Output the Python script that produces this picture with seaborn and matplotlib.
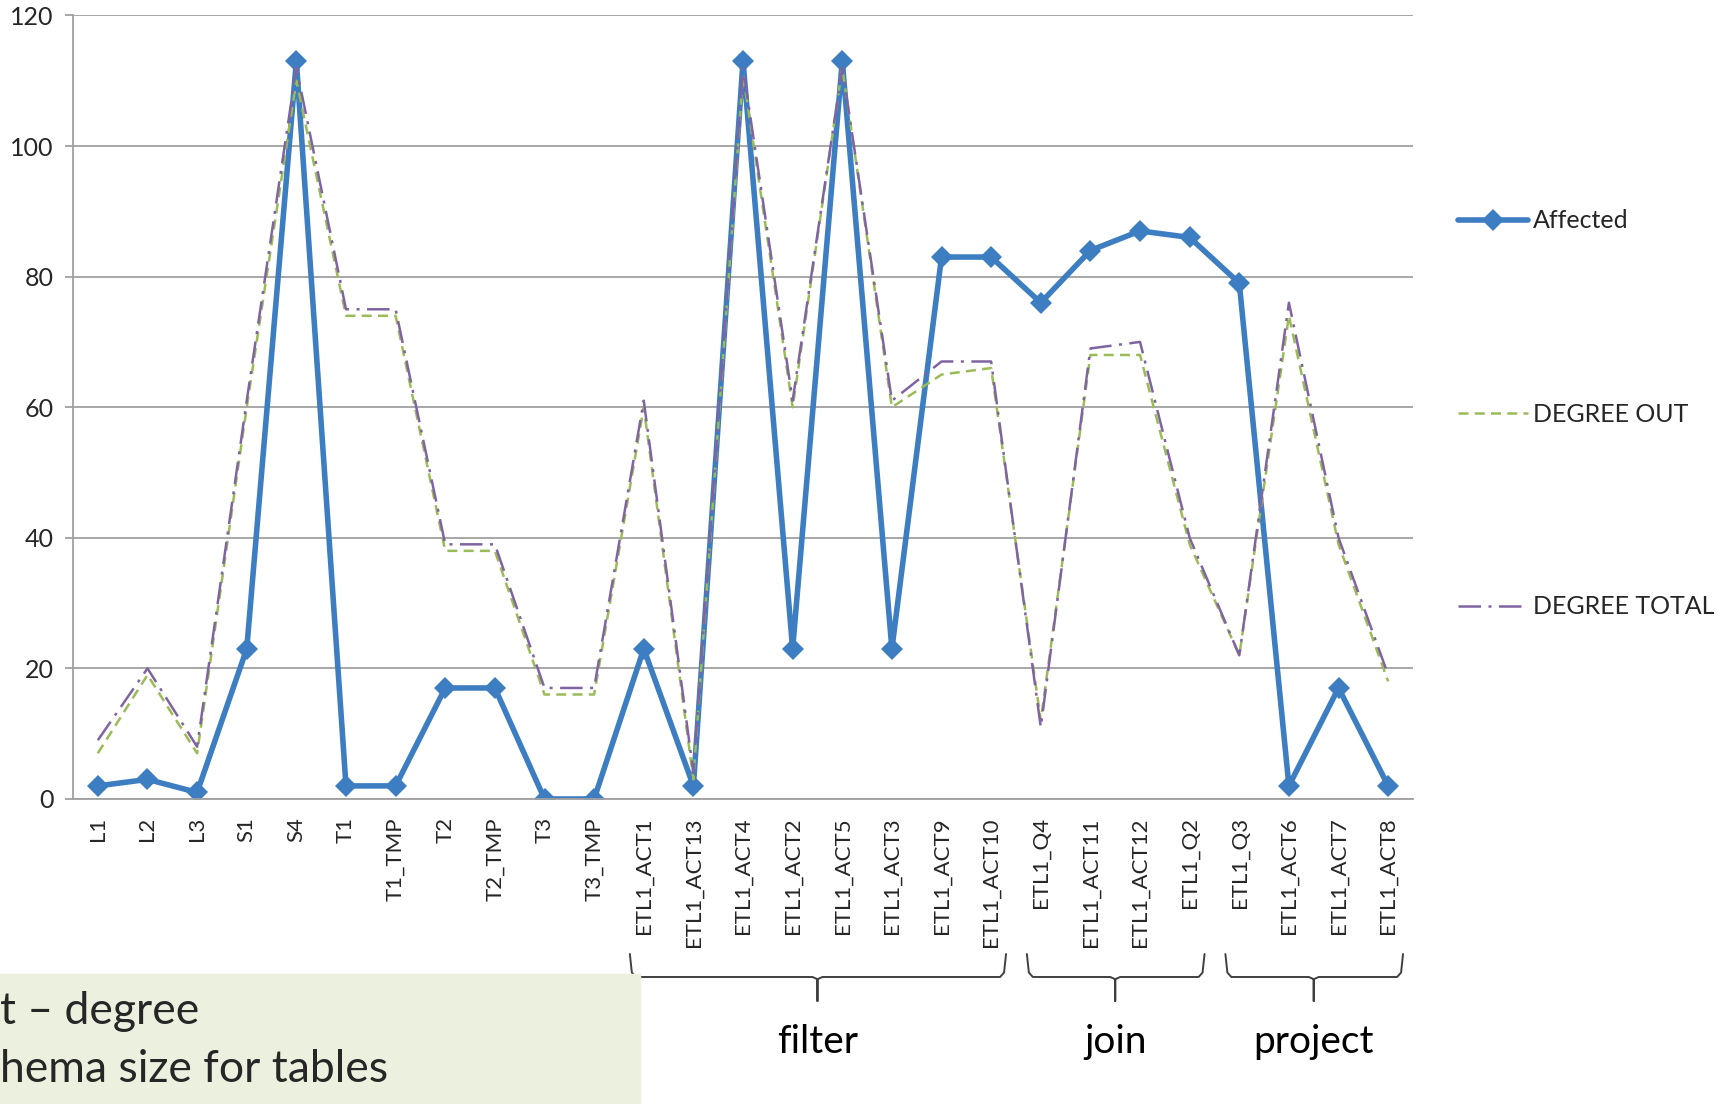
import matplotlib.pyplot as plt
import matplotlib.transforms as mtransforms
import seaborn as sns
import pandas as pd

categories = [
    "L1", "L2", "L3", "S1", "S4", "T1", "T1_TMP", "T2", "T2_TMP", "T3", "T3_TMP",
    "ETL1_ACT1", "ETL1_ACT13", "ETL1_ACT4", "ETL1_ACT2", "ETL1_ACT5", "ETL1_ACT3",
    "ETL1_ACT9", "ETL1_ACT10", "ETL1_Q4", "ETL1_ACT11", "ETL1_ACT12", "ETL1_Q2",
    "ETL1_Q3", "ETL1_ACT6", "ETL1_ACT7", "ETL1_ACT8",
]
affected = [2, 3, 1, 23, 113, 2, 2, 17, 17, 0, 0,
            23, 2, 113, 23, 113, 23, 83, 83, 76, 84, 87, 86,
            79, 2, 17, 2]
degree_out = [7, 19, 7, 60, 110, 74, 74, 38, 38, 16, 16,
              60, 3, 111, 60, 112, 60, 65, 66, 12, 68, 68, 39,
              22, 74, 39, 18]
degree_total = [9, 20, 8, 61, 112, 75, 75, 39, 39, 17, 17,
                61, 4, 112, 61, 112, 61, 67, 67, 11, 69, 70, 40,
                22, 76, 40, 19]

groups = ["filter", "join", "project"]
group_first = ["ETL1_ACT1", "ETL1_Q4", "ETL1_Q3"]
group_last = ["ETL1_ACT10", "ETL1_Q2", "ETL1_ACT8"]

note_lines = ["t \u2013 degree", "hema size for tables"]

df = pd.DataFrame({"cat": categories, "Affected": affected,
                   "DEGREE OUT": degree_out, "DEGREE TOTAL": degree_total})

sns.set_style("white")
plt.rcParams["font.family"] = ["Lato", "DejaVu Sans"]

fig = plt.figure(figsize=(17.35, 11.04), dpi=100)
ax = fig.add_axes([0.0421, 0.2763, 0.7723, 0.7097])

blue = "#3D7DC1"
green = "#9BBB59"
purple = "#8064A2"

sns.lineplot(data=df, x="cat", y="Affected", ax=ax, color=blue, lw=4,
             marker="D", markersize=11, markeredgewidth=0, label="Affected",
             sort=False, errorbar=None)
sns.lineplot(data=df, x="cat", y="DEGREE OUT", ax=ax, color=green, lw=1.8,
             linestyle=(0, (4, 2.5)), label="DEGREE OUT", sort=False, errorbar=None)
sns.lineplot(data=df, x="cat", y="DEGREE TOTAL", ax=ax, color=purple, lw=1.8,
             linestyle=(0, (9, 3, 1.2, 3)), label="DEGREE TOTAL", sort=False,
             errorbar=None)

n = len(categories)
ax.set_xlim(-0.5, n - 0.5)
ax.set_ylim(0, 120)
ax.set_yticks(range(0, 121, 20))
ax.set_xlabel("")
ax.set_ylabel("")

# gridlines and axes in grey, like the original
ax.grid(axis="y", color="#A0A0A0", lw=1.3)
ax.set_axisbelow(True)
for s in ["top", "right"]:
    ax.spines[s].set_visible(False)
for s in ["left", "bottom"]:
    ax.spines[s].set_color("#A0A0A0")
    ax.spines[s].set_linewidth(1.3)

ax.set_xticks(range(n))
ax.set_xticklabels(categories, rotation=90, fontsize=16)
ax.set_xticks([i - 0.5 for i in range(n + 1)], minor=True)
ax.tick_params(axis="x", which="major", length=0, pad=13)
ax.tick_params(axis="x", which="minor", length=6, color="#A0A0A0", width=1.3,
               direction="out")
ax.tick_params(axis="y", length=6, color="#A0A0A0", width=1.3, direction="out",
               labelsize=18, pad=8, left=True)

leg = ax.legend(loc="center left", bbox_to_anchor=(0.8403, 0.625),
                bbox_transform=fig.transFigure, frameon=False, fontsize=18,
                borderpad=0, borderaxespad=0, labelspacing=6.8,
                handlelength=2.8, handletextpad=0.2)

# group braces under the tick labels
trans = mtransforms.blended_transform_factory(ax.transData, fig.transFigure)
pos = {c: i for i, c in enumerate(categories)}
y_top, y_mid, y_tip = 1 - 954 / 1104, 1 - 977 / 1104, 1 - 1001 / 1104
for name, first, last in zip(groups, group_first, group_last):
    x0 = pos[first] - 0.28
    x1 = pos[last] + 0.3
    xc = (pos[first] + pos[last]) / 2
    xs = [x0, x0 + 0.04, x0 + 0.12, xc - 0.1, xc, xc, xc, xc + 0.1, x1 - 0.12, x1 - 0.04, x1]
    ys = [y_top, y_mid + 0.004, y_mid, y_mid, y_mid - 0.002, y_tip, y_mid - 0.002,
          y_mid, y_mid, y_mid + 0.004, y_top]
    ax.plot(xs, ys, transform=trans, color="#404040", lw=1.4, clip_on=False)
    ax.text(xc, 1 - 1042 / 1104, name, transform=trans, ha="center",
            va="center", fontsize=28, color="black")

# green note box cut off at the bottom left
fig.patches.append(plt.Rectangle((0, 0), 640 / 1735, 130 / 1104,
                                 transform=fig.transFigure, color="#EBF1DE",
                                 zorder=0))
fig.text(0.0, 1 - 1012 / 1104, note_lines[0], fontsize=32, va="center", ha="left")
fig.text(0.0, 1 - 1070 / 1104, note_lines[1], fontsize=32, va="center", ha="left")

fig.savefig("out.png", dpi=100)
